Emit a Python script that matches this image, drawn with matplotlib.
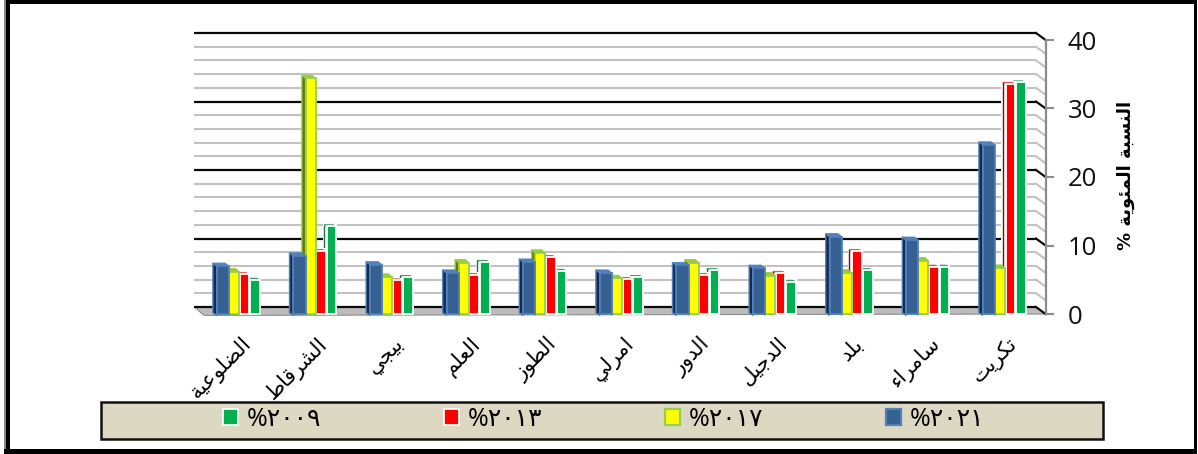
import matplotlib
matplotlib.use("Agg")
import matplotlib.pyplot as plt
from matplotlib.patches import Patch, Polygon, Rectangle

# Districts, in plotting order
districts = ["الضلوعية", "الشرقاط", "بيجي", "العلم", "الطوز", "امرلي",
             "الدور", "الدجيل", "بلد", "سامراء", "تكريت"]

# Percentages per survey year
values_2021 = [7.0, 8.5, 7.2, 6.0, 7.6, 6.0, 7.1, 6.7, 11.3, 10.8, 24.7]
values_2017 = [6.2, 34.4, 5.4, 7.5, 8.9, 5.2, 7.5, 5.6, 6.0, 7.8, 6.7]
values_2013 = [5.8, 9.2, 4.9, 5.7, 8.3, 5.1, 5.7, 6.0, 9.2, 6.9, 33.6]
values_2009 = [5.0, 12.8, 5.4, 7.6, 6.3, 5.4, 6.4, 4.7, 6.4, 6.9, 33.8]

legend_labels = ["%٢٠٠٩", "%٢٠١٣", "%٢٠١٧", "%٢٠٢١"]
y_ticks = [0, 10, 20, 30, 40]
y_title = "النسبة المئوية %"

# Presentation forms: isolated, final, initial, medial
FORMS = {
    "ء": "\uFE80", "ئ": "\uFE89\uFE8A\uFE8B\uFE8C", "ا": "\uFE8D\uFE8E",
    "ب": "\uFE8F\uFE90\uFE91\uFE92", "ة": "\uFE93\uFE94",
    "ت": "\uFE95\uFE96\uFE97\uFE98", "ج": "\uFE9D\uFE9E\uFE9F\uFEA0",
    "د": "\uFEA9\uFEAA", "ر": "\uFEAD\uFEAE", "ز": "\uFEAF\uFEB0",
    "س": "\uFEB1\uFEB2\uFEB3\uFEB4", "ش": "\uFEB5\uFEB6\uFEB7\uFEB8",
    "ض": "\uFEBD\uFEBE\uFEBF\uFEC0",
    "ط": "\uFEC1\uFEC2\uFEC3\uFEC4", "ع": "\uFEC9\uFECA\uFECB\uFECC",
    "ق": "\uFED5\uFED6\uFED7\uFED8", "ك": "\uFED9\uFEDA\uFEDB\uFEDC",
    "ل": "\uFEDD\uFEDE\uFEDF\uFEE0", "م": "\uFEE1\uFEE2\uFEE3\uFEE4",
    "ن": "\uFEE5\uFEE6\uFEE7\uFEE8", "و": "\uFEED\uFEEE",
    "ي": "\uFEF1\uFEF2\uFEF3\uFEF4",
}


def shape(text):
    """Join Arabic letters and lay them out left to right for the renderer."""
    out = []
    for i, ch in enumerate(text):
        forms = FORMS.get(ch)
        if forms is None:
            out.append(ch)
            continue
        prev = text[i - 1] if i else ""
        nxt = text[i + 1] if i + 1 < len(text) else ""
        joins_prev = prev in FORMS and len(FORMS[prev]) == 4
        joins_next = nxt in FORMS and len(forms) == 4
        if joins_prev and joins_next:
            out.append(forms[3])
        elif joins_next:
            out.append(forms[2])
        elif joins_prev:
            out.append(forms[1])
        else:
            out.append(forms[0])
    return "".join(reversed(out))


W, H = 1198, 454
fig = plt.figure(figsize=(W / 100, H / 100), dpi=100, facecolor="white")

AX_L, AX_R, AX_T, AX_B = 204.0, 1045.6, 40.0, 314.0
ax = fig.add_axes([AX_L / W, 1 - AX_B / H, (AX_R - AX_L) / W, (AX_B - AX_T) / H])
ax.patch.set_visible(False)

STRIDE = 76.6
XMIN = -(238.2 - AX_L) / STRIDE
XMAX = XMIN + (AX_R - AX_L) / STRIDE
ax.set_xlim(XMIN, XMAX)
ax.set_ylim(0, 40)
PX = 1 / STRIDE
PY = 40 / (AX_B - AX_T)

# Floor of the box, under the zero line of the back wall
WALL_DX, WALL_DY = 9.6 * PX, 7.0 * PY
ax.add_patch(Polygon([(XMIN - WALL_DX, WALL_DY), (XMAX - WALL_DX, WALL_DY),
                      (XMAX, 0), (XMIN, -0.2)], closed=True, facecolor="#bcbcbc",
                     edgecolor="#8c8c8c", lw=0.8, clip_on=False, zorder=0.8))

# Back wall and side wall of the 3-D box
for level in range(0, 41, 2):
    major = level % 10 == 0
    color = "#0a0a0a" if major else "#c2c2c2"
    lw = 1.6 if major else 1.5
    y_back = level + WALL_DY
    ax.plot([XMIN - WALL_DX, XMAX - WALL_DX], [y_back, y_back], color=color,
            lw=lw, clip_on=False, zorder=1, solid_capstyle="butt")
    ax.plot([XMAX - WALL_DX, XMAX], [y_back, level], color=color,
            lw=lw, clip_on=False, zorder=1)

# Each series: values, left offset and width of the front face, colours
SERIES = [
    (values_2009, 12.0, 9.5, "#00b050", "white", "#1f6f4a", "#2e9a6b", 3.0, 1.6),
    (values_2013, 1.4, 9.5, "#ff0000", "white", "#7a0c0c", "#e04a4a", 3.0, 1.6),
    (values_2017, -9.3, 10.2, "#ffff00", "#92d050", "#6f7000", "#9bc93a", 3.6, 3.2),
    (values_2021, -21.5, 12.2, "#376092", "#4f81bd", "#17294a", "#4f81bd", 3.8, 3.0),
]
positions = list(range(len(districts)))

for z, (vals, off, width, face, edge, side, top, dx, dy) in enumerate(SERIES):
    z0 = 3 + z
    lefts = [p + off * PX for p in positions]
    w = width * PX
    for x0, v in zip(lefts, vals):
        ddx, ddy = dx * PX, dy * PY
        if edge == "white":
            # Light series have a white halo behind the dark depth line
            ax.add_patch(Polygon([(x0 - ddx - 1.2 * PX, 0), (x0 - ddx - 1.2 * PX, v + ddy + 1.2 * PY),
                                  (x0 + w + 1 * PX, v + ddy + 1.2 * PY), (x0 + w + 1 * PX, 0)],
                                 closed=True, fc="white", ec="none", clip_on=False, zorder=z0))
            ax.plot([x0 - ddx, x0 - ddx], [0.6, v + ddy * 0.5], color=side, lw=1.0, zorder=z0 + 0.1)
        else:
            ax.add_patch(Polygon([(x0, -0.2), (x0 - ddx, ddy * 0.4), (x0 - ddx, v + ddy), (x0, v)],
                                 closed=True, fc=side, ec=edge, lw=1.0, clip_on=False, zorder=z0 + 0.1))
        ax.add_patch(Polygon([(x0 - ddx, v + ddy), (x0 + w - ddx, v + ddy), (x0 + w, v), (x0, v)],
                             closed=True, fc=top, ec=top, lw=0.6, clip_on=False, zorder=z0 + 0.1))
    ax.bar(lefts, vals, width=w, align="edge", color=face, edgecolor=edge,
           linewidth=1.3, zorder=z0 + 0.2, clip_on=False)

# Axes furniture
for name in ("top", "left", "bottom"):
    ax.spines[name].set_visible(False)
ax.spines["right"].set_color("#8c8c8c")
ax.spines["right"].set_linewidth(1.6)

ax.yaxis.tick_right()
ax.set_yticks(y_ticks)
ax.set_yticklabels([str(t) for t in y_ticks], fontsize=18.5, family="Open Sans", color="#111111")
ax.tick_params(axis="y", length=6, width=1.5, color="#8c8c8c", pad=10)

ax.set_xticks([p + 0.03 for p in positions])
ax.set_xticklabels([shape(d) for d in districts], rotation=45, ha="right",
                   rotation_mode="anchor", fontsize=15, family="DejaVu Sans", color="black")
ax.tick_params(axis="x", length=0, pad=14)

fig.text(1126 / W, 1 - 175 / H, shape(y_title), rotation=90, ha="center", va="center",
         fontsize=13, fontweight="bold", family="DejaVu Sans", color="black")


def px_rect(x0, y0, x1, y1, **kw):
    """Rectangle on the figure given in pixels from the top-left corner."""
    fig.add_artist(Rectangle((x0 / W, 1 - y1 / H), (x1 - x0) / W, (y1 - y0) / H,
                             transform=fig.transFigure, **kw))


# Legend band
px_rect(101, 401.5, 1103, 438.5, facecolor="#ddd8c2", edgecolor="#111111", lw=1.8, zorder=8)
handles = [
    Patch(facecolor="#00b050", edgecolor="white", lw=1.2),
    Patch(facecolor="#ff0000", edgecolor="white", lw=1.2),
    Patch(facecolor="#ffff00", edgecolor="#92d050", lw=1.6),
    Patch(facecolor="#376092", edgecolor="#4f81bd", lw=1.6),
]
leg = fig.legend(handles, legend_labels, ncol=4, loc="center left",
                 bbox_to_anchor=(223 / W, 1 - 419 / H), frameon=False, borderpad=0,
                 borderaxespad=0, handlelength=0.6, handleheight=0.6, handletextpad=0.36,
                 columnspacing=4.9, prop={"family": ["Open Sans", "DejaVu Sans"], "size": 18})
leg.set_zorder(9)

# Heavy outer frame
px_rect(4, 0, W - 1, 4, facecolor="black", edgecolor="none", zorder=10)
px_rect(4, 0, 6, H, facecolor="#8a8a8a", edgecolor="none", zorder=10)
px_rect(6, 0, 10, H, facecolor="black", edgecolor="none", zorder=10)
px_rect(1194, 0, 1197, H, facecolor="black", edgecolor="none", zorder=10)
px_rect(4, 449, W - 1, H, facecolor="black", edgecolor="none", zorder=10)

fig.savefig("out.png", dpi=100)
